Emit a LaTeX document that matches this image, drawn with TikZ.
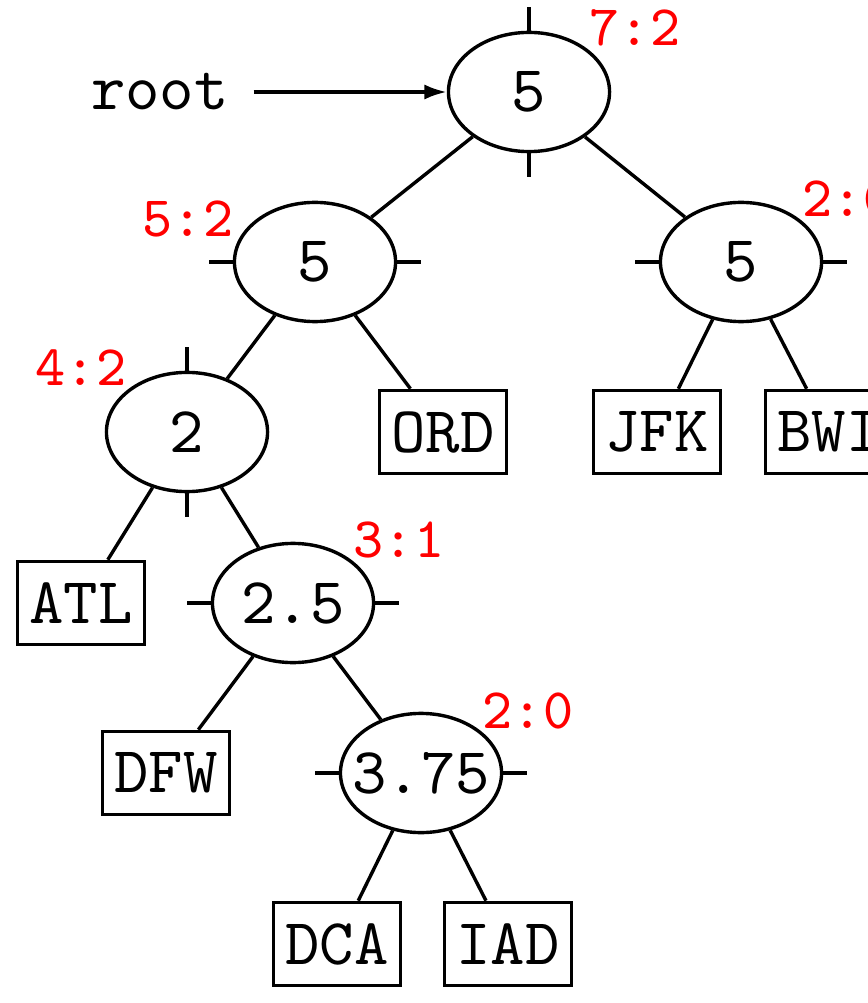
\documentclass[tikz,border=0pt]{standalone}
\usetikzlibrary{shapes.geometric,arrows.meta}
\begin{document}
\begin{tikzpicture}[x=0.1527pt,y=-0.1527pt,
  every node/.style={font=\ttfamily},
  inode/.style={ellipse,draw,line width=0.52pt,minimum width=24.6pt,minimum height=18.2pt,inner sep=0pt},
  leaf/.style={rectangle,draw,line width=0.52pt,minimum width=19.4pt,minimum height=12.7pt,inner sep=0pt},
  cnt/.style={text=red,font=\ttfamily\fontsize{8.75}{10}\selectfont,inner sep=0pt},
  edge/.style={line width=0.52pt}]
\useasboundingbox (0,0) rectangle (868,1003);

% internal nodes
\node[inode] (r)   at (529,92)  {\makebox[0pt]{5}};
\node[inode] (l)   at (315,262) {\makebox[0pt]{5}};
\node[inode] (rr)  at (741,262) {\makebox[0pt]{5}};
\node[inode] (n2)  at (187,432) {\makebox[0pt]{2}};
\node[inode] (n25) at (293,603) {\makebox[0pt]{2.5}};
\node[inode] (n375) at (421,773) {\makebox[0pt]{3.75}};

% leaves
\node[leaf] (ord) at (443,432) {ORD};
\node[leaf] (jfk) at (657,432) {JFK};
\node[leaf] (bwi) at (829,432) {BWI};
\node[leaf] (atl) at (81,603)  {ATL};
\node[leaf] (dfw) at (166,773) {DFW};
\node[leaf] (dca) at (337,944) {DCA};
\node[leaf] (iad) at (508,944) {IAD};

% root label and arrow
\node[inner sep=3.6pt] (rootlbl) at (160,92) {root};
\draw[edge,-{Latex[length=3.4pt,width=2.3pt]}] (rootlbl) -- (r);

% edges
\draw[edge] (r) -- (l);
\draw[edge] (r) -- (rr);
\draw[edge] (l) -- (n2);
\draw[edge] (l) -- (ord);
\draw[edge] (rr) -- (jfk);
\draw[edge] (rr) -- (bwi);
\draw[edge] (n2) -- (atl);
\draw[edge] (n2) -- (n25);
\draw[edge] (n25) -- (dfw);
\draw[edge] (n25) -- (n375);
\draw[edge] (n375) -- (dca);
\draw[edge] (n375) -- (iad);

% ticks
\draw[edge] (r.north) -- ++(0,-24);
\draw[edge] (r.south) -- ++(0,24);
\draw[edge] (n2.north) -- ++(0,-24);
\draw[edge] (n2.south) -- ++(0,24);
\foreach \n in {l,rr,n25,n375}{
  \draw[edge] (\n.west) -- ++(-24,0);
  \draw[edge] (\n.east) -- ++(24,0);
}

% counters
\node[cnt] (c1) at (635,28)  {7:2};
\node[cnt] (c2) at (188,219) {5:2};
\node[cnt] (c3) at (848,199) {2:0};
\node[cnt] (c4) at (81,368)  {4:2};
\node[cnt] (c5) at (399,540) {3:1};
\node[cnt] (c6) at (528,711) {2:0};
\end{tikzpicture}
\end{document}
